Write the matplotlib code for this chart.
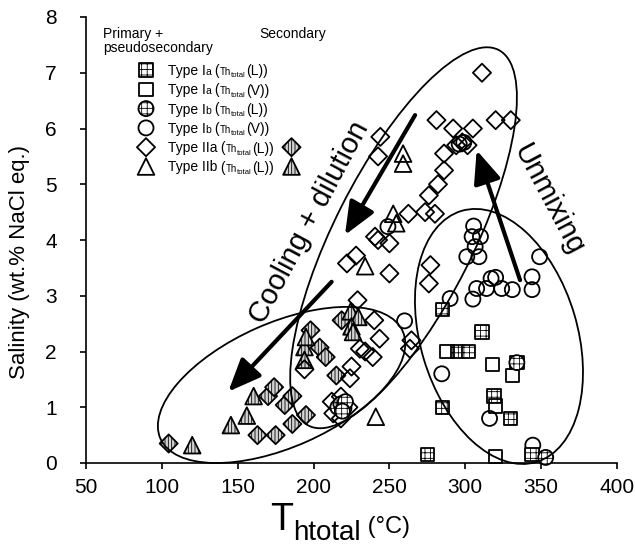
import matplotlib
matplotlib.use('Agg')
import matplotlib.pyplot as plt
from matplotlib.patches import Ellipse
from matplotlib.transforms import ScaledTranslation

plt.rcParams['font.family'] = ['Liberation Sans', 'DejaVu Sans']
plt.rcParams['hatch.linewidth'] = 0.6

# homogenization temperature (C) / salinity (wt.% NaCl eq.)
ia_L_x = [285, 311, 295, 302, 334, 319, 330, 285, 275, 344]
ia_L_y = [2.75, 2.35, 2.0, 2.0, 1.8, 1.2, 0.8, 1.0, 0.15, 0.15]

ia_V_x = [288, 318, 331, 320, 320]
ia_V_y = [2.0, 1.77, 1.57, 1.02, 0.12]

ib_L_x = [334, 353, 216, 218, 220, 221, 219]
ib_L_y = [1.8, 0.1, 1.0, 1.06, 0.98, 1.1, 0.93]

ib_V_x = [249, 305.5, 304.5, 310, 306.5, 301, 309, 349, 305, 307.5, 314, 317, 320, 324,
          331, 344, 344, 290, 260, 284.5, 316, 344.5, 296, 299]
ib_V_y = [4.24, 4.25, 4.06, 4.06, 3.88, 3.7, 3.7, 3.7, 2.94, 3.13, 3.13, 3.31, 3.33, 3.13,
          3.11, 3.34, 3.11, 2.95, 2.55, 1.6, 0.8, 0.32, 5.72, 5.75]

iia_x = [311, 281, 320, 330, 292, 305, 294, 298, 301.5, 286, 286, 282, 276, 280, 273.5,
         262.5, 244, 242.5, 242.5, 250, 240.5, 250, 277, 276, 222, 228, 229, 240, 243.5,
         230.5, 234, 239, 225, 224, 218, 213, 218, 194, 264.5, 263.5, 212, 223]
iia_y = [7.0, 6.15, 6.15, 6.15, 6.0, 6.0, 5.7, 5.75, 5.7, 5.55, 5.25, 5.0, 4.8, 4.47, 4.5,
         4.47, 5.85, 5.5, 4.0, 3.94, 4.06, 3.4, 3.55, 3.22, 3.58, 3.72, 2.92, 2.56, 2.23,
         2.05, 2.0, 1.9, 1.73, 1.52, 1.19, 0.89, 0.8, 1.68, 2.2, 2.05, 1.1, 1.0]

iia_sec_x = [104.5, 163, 175, 186, 195, 181, 170, 174, 186, 198, 204, 208, 218.5, 215]
iia_sec_y = [0.35, 0.5, 0.5, 0.7, 0.86, 1.04, 1.2, 1.36, 1.2, 2.38, 2.07, 1.9, 2.56, 1.57]

iib_x = [259, 259, 252.5, 254.5, 234, 241]
iib_y = [5.55, 5.37, 4.47, 4.3, 3.53, 0.83]

iib_sec_x = [120, 145.5, 156, 160.5, 194, 195, 194, 224.5, 229.5, 225, 226]
iib_sec_y = [0.32, 0.68, 0.85, 1.2, 2.08, 2.26, 1.85, 2.72, 2.62, 2.45, 2.35]

# marker looks
st_ia_L = dict(marker='s', s=92, facecolor='white', edgecolor='k', hatch='+++', linewidths=1.3)
st_ia_V = dict(marker='s', s=92, facecolor='none', edgecolor='k', linewidths=1.3)
st_ib_L = dict(marker='o', s=117, facecolor='white', edgecolor='k', hatch='+++', linewidths=1.3)
st_ib_V = dict(marker='o', s=117, facecolor='none', edgecolor='k', linewidths=1.3)
st_iia = dict(marker='D', s=85, facecolor='none', edgecolor='k', linewidths=1.3)
st_iia_sec = dict(marker='D', s=85, facecolor='#d4d4d4', edgecolor='k', hatch='|||||', linewidths=1.3)
st_iib = dict(marker='^', s=144, facecolor='none', edgecolor='k', linewidths=1.3)
st_iib_sec = dict(marker='^', s=144, facecolor='#d4d4d4', edgecolor='k', hatch='|||||', linewidths=1.3)

fig = plt.figure(figsize=(6.35, 5.47), dpi=100)
ax = fig.add_axes([86 / 635, 84 / 547, 531 / 635, 446 / 547])

ax.scatter(iia_sec_x, iia_sec_y, clip_on=False, zorder=3, **st_iia_sec)
ax.scatter(iib_sec_x, iib_sec_y, clip_on=False, zorder=3, **st_iib_sec)
ax.scatter(iia_x, iia_y, clip_on=False, zorder=3, **st_iia)
ax.scatter(iib_x, iib_y, clip_on=False, zorder=3, **st_iib)
ax.scatter(ib_V_x, ib_V_y, clip_on=False, zorder=3, **st_ib_V)
ax.scatter(ia_L_x, ia_L_y, clip_on=False, zorder=3, **st_ia_L)
ax.scatter(ia_V_x, ia_V_y, clip_on=False, zorder=3, **st_ia_V)
ax.scatter(ib_L_x, ib_L_y, clip_on=False, zorder=3, **st_ib_L)

ax.set_xlim(50, 400)
ax.set_ylim(0, 8)
ax.set_xticks(range(50, 401, 50))
ax.set_yticks(range(0, 9))
ax.spines['top'].set_visible(False)
ax.spines['right'].set_visible(False)
for sp in ('left', 'bottom'):
    ax.spines[sp].set_linewidth(1.2)
ax.tick_params(axis='both', direction='out', length=4, width=1.2, labelsize=15)
ax.tick_params(axis='y', pad=17)
ax.tick_params(axis='x', pad=7)


# ellipses sized in inches, centred on a data point
def ring(cx, cy, w, h, ang):
    tr = fig.dpi_scale_trans + ScaledTranslation(cx, cy, ax.transData)
    ax.add_patch(Ellipse((0, 0), w, h, angle=ang, transform=tr, fill=False,
                         lw=1.3, ec='k', zorder=4, clip_on=False))


ring(178.9, 1.40, 2.65, 1.24, 23.9)
ring(259.3, 4.04, 4.21, 1.39, 63.2)
ring(322.2, 2.27, 2.62, 1.57, 106.6)

arrow = dict(arrowstyle='-|>,head_length=1.0,head_width=0.42', lw=3, color='k',
             mutation_scale=20, shrinkA=0, shrinkB=0)
ax.annotate('', xy=(220.7, 4.09), xytext=(266.9, 6.24), arrowprops=arrow, zorder=5)
ax.annotate('', xy=(143.8, 1.28), xytext=(211.9, 3.25), arrowprops=arrow, zorder=5)
ax.annotate('', xy=(307.5, 5.61), xytext=(336.1, 3.28), arrowprops=arrow, zorder=5)

ax.text(197.0, 4.31, 'Cooling + dilution', fontsize=21, rotation=62,
        ha='center', va='center', rotation_mode='anchor')
ax.text(355.2, 4.72, 'Unmixing', fontsize=21, rotation=-62,
        ha='center', va='center', rotation_mode='anchor')

DESC = 0.212  # descent of the font relative to its size


def chain_text(first, pieces):
    # place text pieces one after another on a shared baseline (plus rise)
    prev = first
    prev_size = first.get_fontsize()
    prev_rise = 0
    for s, size, rise in pieces:
        prev = ax.annotate(s, xy=(1, 0), xycoords=prev,
                           xytext=(0, DESC * prev_size + rise - prev_rise),
                           textcoords='offset points', fontsize=size,
                           va='baseline', ha='left', annotation_clip=False)
        prev_size, prev_rise = size, rise
    return prev


# legend block
ax.text(0.032, 0.978, 'Primary +\npseudosecondary', transform=ax.transAxes,
        fontsize=10, va='top', ha='left', linespacing=1.0)
ax.text(0.326, 0.978, 'Secondary', transform=ax.transAxes, fontsize=10,
        va='top', ha='left')

leg_styles = [st_ia_L, st_ia_V, st_ib_L, st_ib_V, st_iia, st_iib]
leg_heads = ['Type I', 'Type I', 'Type I', 'Type I', 'Type IIa', 'Type IIb']
leg_subs = ['a', 'a', 'b', 'b', '', '']
leg_phase = ['L', 'V', 'L', 'V', 'L', 'L']
sec_styles = [None, None, None, None, st_iia_sec, st_iib_sec]

for i in range(6):
    yc = (463 - (70 + i * 19.3)) / 446
    ax.scatter([0.113], [yc], transform=ax.transAxes, clip_on=False, zorder=3, **leg_styles[i])
    if sec_styles[i] is not None:
        ax.scatter([0.387], [yc], transform=ax.transAxes, clip_on=False, zorder=3, **sec_styles[i])
    t0 = ax.text(0.154, yc - 5 / 446, leg_heads[i], transform=ax.transAxes,
                 fontsize=10, va='baseline', ha='left')
    pieces = []
    if leg_subs[i]:
        pieces.append((leg_subs[i], 7.5, 0))
    pieces += [(' (', 10, 0), ('Th', 7, 0), ('total', 5.5, -1.8),
               ('(' + leg_phase[i] + '))', 10, 0)]
    chain_text(t0, pieces)

# axis titles
fig.text(0.030, 0.521, 'Salinity (wt.% NaCl eq.)', fontsize=16, rotation=90,
         ha='center', va='center')
tx = fig.text(270 / 635, (547 - 530) / 547, 'T', fontsize=27, va='baseline', ha='left')
chain_text(tx, [('htotal', 20, -7.5), (' (°C)', 17, -2.0)])

fig.savefig('out.png', dpi=100)
